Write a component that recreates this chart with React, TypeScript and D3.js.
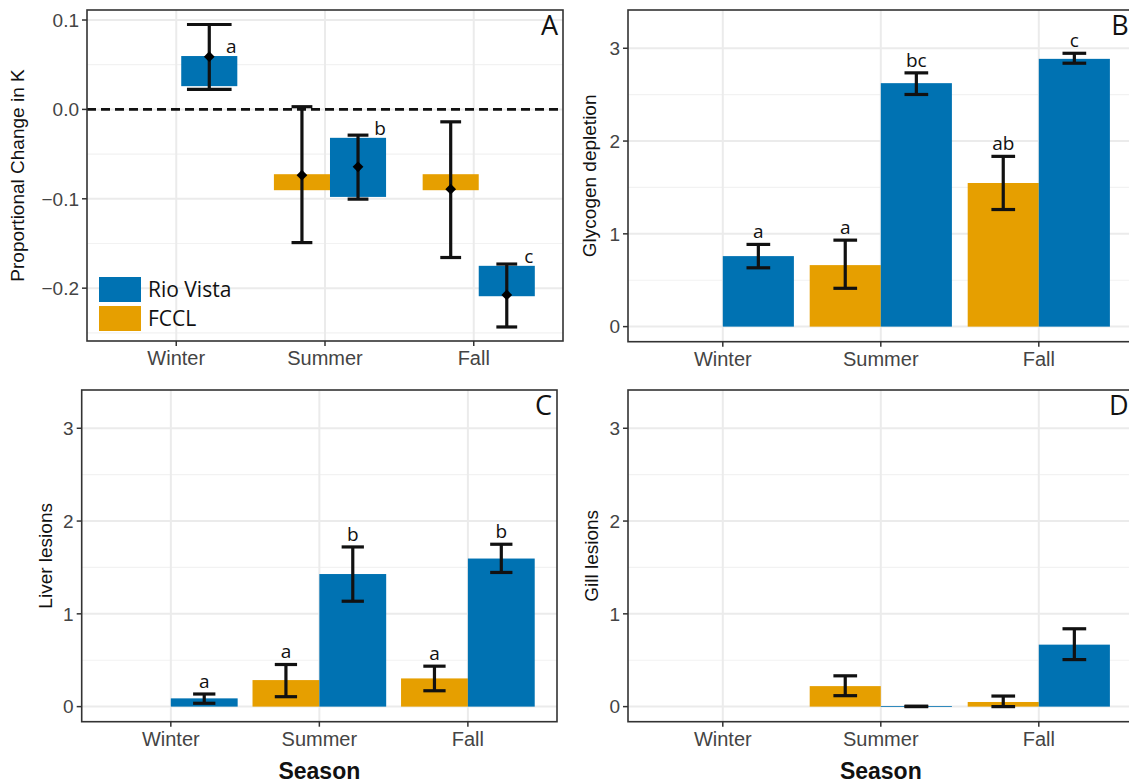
import * as d3 from 'd3';

const seasons = ['Winter', 'Summer', 'Fall'];
const sites = ['FCCL', 'Rio Vista'];
const siteColors = ['#E69F00', '#0072B2'];

// Panel A: proportional change in K (box = interval, diamond = mean, whiskers = range)
const kSeason = ['Winter', 'Summer', 'Summer', 'Fall', 'Fall'];
const kSite = ['Rio Vista', 'FCCL', 'Rio Vista', 'FCCL', 'Rio Vista'];
const kMean = [0.059, -0.0736, -0.0643, -0.0893, -0.2076];
const kBoxLow = [0.026, -0.0904, -0.0979, -0.0904, -0.209];
const kBoxHigh = [0.0597, -0.0725, -0.0318, -0.0725, -0.175];
const kErrLow = [0.0224, -0.149, -0.1004, -0.1657, -0.2434];
const kErrHigh = [0.095, 0.003, -0.0288, -0.0139, -0.173];
const kLetters = ['a', '', 'b', '', 'c'];
const kTicks = [-0.2, -0.1, 0, 0.1];
const kMinor = [-0.25, -0.15, -0.05, 0.05];

// Panels B-D: bars, one per season x site
const barSeason = ['Winter', 'Winter', 'Summer', 'Summer', 'Fall', 'Fall'];
const barSite = ['FCCL', 'Rio Vista', 'FCCL', 'Rio Vista', 'FCCL', 'Rio Vista'];

const glycogenMean = [null, 0.76, 0.663, 2.624, 1.548, 2.886];
const glycogenLow = [null, 0.634, 0.413, 2.502, 1.262, 2.839];
const glycogenHigh = [null, 0.886, 0.932, 2.735, 1.835, 2.946];
const glycogenLetters = ['', 'a', 'a', 'bc', 'ab', 'c'];

const liverMean = [null, 0.089, 0.286, 1.429, 0.304, 1.596];
const liverLow = [null, 0.036, 0.107, 1.136, 0.171, 1.446];
const liverHigh = [null, 0.136, 0.454, 1.721, 0.436, 1.75];
const liverLetters = ['', 'a', 'a', 'b', 'a', 'b'];

const gillMean = [null, null, 0.221, 0.005, 0.05, 0.668];
const gillLow = [null, null, 0.118, 0, 0, 0.507];
const gillHigh = [null, null, 0.332, 0.005, 0.114, 0.839];
const gillLetters = ['', '', '', '', '', ''];

const barTicks = [0, 1, 2, 3];
const barMinor = [0.5, 1.5, 2.5];
const barDomain = [-0.1625, 3.4125];

const SANS = '"Liberation Sans", Arial, sans-serif';
const HUMAN = '"Open Sans", "DejaVu Sans", sans-serif';
const BORDER = '#333333';
const GRID = '#ebebeb';

type Frame = { left: number; right: number; top: number; bottom: number };

function Axes({ f, x, y, ticks, minor, fmt, title, titleX, tag, season }: any) {
  return (
    <g>
      {minor.map((v: number) => (
        <line key={'m' + v} x1={f.left} x2={f.right} y1={y(v)} y2={y(v)} stroke="#f2f2f2" strokeWidth={1.2} />
      ))}
      {ticks.map((v: number) => (
        <line key={'g' + v} x1={f.left} x2={f.right} y1={y(v)} y2={y(v)} stroke={GRID} strokeWidth={2} />
      ))}
      {seasons.map((s) => (
        <line key={'v' + s} x1={x(s)} x2={x(s)} y1={f.top} y2={f.bottom} stroke={GRID} strokeWidth={2} />
      ))}
      {ticks.map((v: number) => (
        <g key={'t' + v}>
          <line x1={f.left - 5} x2={f.left} y1={y(v)} y2={y(v)} stroke={BORDER} strokeWidth={1.5} />
          <text x={f.left - 8} y={y(v)} dy="0.36em" textAnchor="end" fontFamily={SANS} fontSize={19} fill="#444">
            {fmt(v)}
          </text>
        </g>
      ))}
      {seasons.map((s) => (
        <g key={'xt' + s}>
          <line x1={x(s)} x2={x(s)} y1={f.bottom} y2={f.bottom + 5} stroke={BORDER} strokeWidth={1.5} />
          <text x={x(s)} y={f.bottom + 24} textAnchor="middle" fontFamily={SANS} fontSize={20} fill="#444">
            {s}
          </text>
        </g>
      ))}
      <text
        transform={`translate(${titleX},${(f.top + f.bottom) / 2}) rotate(-90)`}
        textAnchor="middle"
        fontFamily={SANS}
        fontSize={19}
        fill="#111"
      >
        {title}
      </text>
      {season && (
        <text x={(f.left + f.right) / 2} y={f.bottom + 57} textAnchor="middle" fontFamily={SANS} fontSize={23} fontWeight="bold" fill="#111">
          Season
        </text>
      )}
      <text x={f.right - 5} y={f.top + 25} textAnchor="end" fontFamily={HUMAN} fontSize={27} fill="#111">
        {tag}
      </text>
    </g>
  );
}

function BarPanel({ f, means, lows, highs, letters, title, titleX, tag, season }: any) {
  const x = d3.scalePoint<string>().domain(seasons).range([f.left, f.right]).padding(0.6);
  const step = x.step();
  const sub = d3.scaleBand<string>().domain(sites).range([-0.45 * step, 0.45 * step]);
  const y = d3.scaleLinear().domain(barDomain).range([f.bottom, f.top]);
  const color = d3.scaleOrdinal<string, string>().domain(sites).range(siteColors);
  const cap = 0.075 * step;
  const rows = barSeason.map((s, i) => ({ s, site: barSite[i], m: means[i], lo: lows[i], hi: highs[i], l: letters[i] }))
    .filter((r) => r.m != null);
  return (
    <g>
      <Axes f={f} x={x} y={y} ticks={barTicks} minor={barMinor} fmt={d3.format('d')} title={title} titleX={titleX} tag={tag} season={season} />
      {rows.map((r, i) => {
        const x0 = (x(r.s) as number) + (sub(r.site) as number);
        const cx = x0 + sub.bandwidth() / 2;
        return (
          <g key={i}>
            <rect x={x0} width={sub.bandwidth()} y={y(r.m)} height={Math.max(y(0) - y(r.m), 0.8)} fill={color(r.site)} />
            <line x1={cx} x2={cx} y1={y(r.lo)} y2={y(r.hi)} stroke="#111" strokeWidth={3.2} />
            <line x1={cx - cap} x2={cx + cap} y1={y(r.lo)} y2={y(r.lo)} stroke="#111" strokeWidth={3.2} />
            <line x1={cx - cap} x2={cx + cap} y1={y(r.hi)} y2={y(r.hi)} stroke="#111" strokeWidth={3.2} />
            {r.l && (
              <text x={cx} y={y(r.hi) - 6} textAnchor="middle" fontFamily={HUMAN} fontSize={19} fill="#111">
                {r.l}
              </text>
            )}
          </g>
        );
      })}
      <rect x={f.left} y={f.top} width={f.right - f.left} height={f.bottom - f.top} fill="none" stroke={BORDER} strokeWidth={1.6} />
    </g>
  );
}

function BoxPanel({ f }: { f: Frame }) {
  const x = d3.scalePoint<string>().domain(seasons).range([f.left, f.right]).padding(0.6);
  const step = x.step();
  const offset = d3.scaleOrdinal<string, number>().domain(sites).range([-0.155, 0.222]);
  const y = d3.scaleLinear().domain([-0.2591, 0.1112]).range([f.bottom, f.top]);
  const color = d3.scaleOrdinal<string, string>().domain(sites).range(siteColors);
  const boxW = 0.377 * step;
  const diamond = d3.symbol(d3.symbolSquare, 58)() as string;
  const fmt = (v: number) => d3.format('.1f')(v).replace('-', '\u2212');
  const rows = kSeason.map((s, i) => ({
    s, site: kSite[i], m: kMean[i], bl: kBoxLow[i], bh: kBoxHigh[i], el: kErrLow[i], eh: kErrHigh[i], l: kLetters[i],
  }));
  const count = d3.rollup(rows, (v) => v.length, (r) => r.s);
  return (
    <g>
      <Axes f={f} x={x} y={y} ticks={kTicks} minor={kMinor} fmt={fmt} title="Proportional Change in K" titleX={24} tag="A" season={false} />
      <line x1={f.left} x2={f.right} y1={y(0)} y2={y(0)} stroke="#111" strokeWidth={2.6} strokeDasharray="9,5" />
      {rows.map((r, i) => {
        const cx = (x(r.s) as number) + offset(r.site) * step;
        const cap = ((count.get(r.s) === 1 ? 0.3 : 0.14) * step) / 2;
        return (
          <g key={i}>
            <rect x={cx - boxW / 2} width={boxW} y={y(r.bh)} height={y(r.bl) - y(r.bh)} fill={color(r.site)} />
            <line x1={cx} x2={cx} y1={y(r.el)} y2={y(r.eh)} stroke="#111" strokeWidth={3.2} />
            <line x1={cx - cap} x2={cx + cap} y1={y(r.el)} y2={y(r.el)} stroke="#111" strokeWidth={3.2} />
            <line x1={cx - cap} x2={cx + cap} y1={y(r.eh)} y2={y(r.eh)} stroke="#111" strokeWidth={3.2} />
            <path d={diamond} transform={`translate(${cx},${y(r.m)}) rotate(45)`} fill="#000" />
            {r.l && (
              <text x={cx + 22} y={y(r.bh) - 3} textAnchor="middle" fontFamily={HUMAN} fontSize={19} fill="#111">
                {r.l}
              </text>
            )}
          </g>
        );
      })}
      {/* legend */}
      {['Rio Vista', 'FCCL'].map((s, i) => (
        <g key={s} transform={`translate(99,${277 + i * 29})`}>
          <rect width={42} height={25} fill={color(s)} />
          <text x={49} y={20} fontFamily={HUMAN} fontSize={21} fill="#111">
            {s}
          </text>
        </g>
      ))}
      <rect x={f.left} y={f.top} width={f.right - f.left} height={f.bottom - f.top} fill="none" stroke={BORDER} strokeWidth={1.6} />
    </g>
  );
}

export default function App() {
  const fA = { left: 87, right: 563, top: 10, bottom: 341 };
  const fB = { left: 628, right: 1133.6, top: 10, bottom: 341.7 };
  const fC = { left: 81.7, right: 557, top: 390, bottom: 721.7 };
  const fD = { left: 628, right: 1133.6, top: 390, bottom: 721.7 };
  return (
    <svg width={1129} height={783} style={{ position: 'absolute', left: 0, top: 0, background: '#fff' }}>
      <rect width={1129} height={783} fill="#fff" />
      <BoxPanel f={fA} />
      <BarPanel f={fB} means={glycogenMean} lows={glycogenLow} highs={glycogenHigh} letters={glycogenLetters} title="Glycogen depletion" titleX={596} tag="B" season={false} />
      <BarPanel f={fC} means={liverMean} lows={liverLow} highs={liverHigh} letters={liverLetters} title="Liver lesions" titleX={52} tag="C" season={true} />
      <BarPanel f={fD} means={gillMean} lows={gillLow} highs={gillHigh} letters={gillLetters} title="Gill lesions" titleX={598} tag="D" season={true} />
    </svg>
  );
}
